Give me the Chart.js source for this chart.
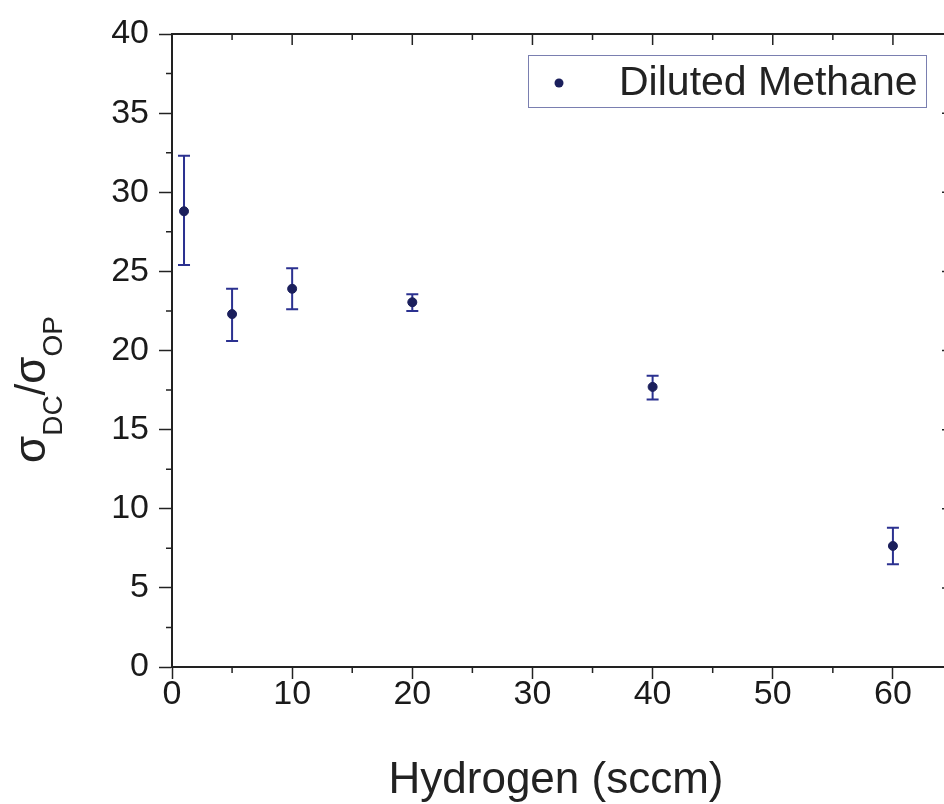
<!DOCTYPE html>
<html>
<head>
<meta charset="utf-8">
<script src="https://cdn.jsdelivr.net/npm/chart.js@4.4.1/dist/chart.umd.min.js"></script>
<style>
  html, body { margin: 0; padding: 0; background: #fff; overflow: hidden; }
  #wrap { width: 970px; height: 804px; }
</style>
</head>
<body>
<div id="wrap"><canvas id="chart" width="970" height="804"></canvas></div>
<script>
// data
const hydrogenFlow = [1, 5, 10, 20, 40, 60];
const sigmaRatio = [28.8, 22.3, 23.9, 23.05, 17.7, 7.65];
const errLow = [25.4, 20.6, 22.6, 22.5, 16.9, 6.5];
const errHigh = [32.3, 23.9, 25.2, 23.55, 18.4, 8.8];
const xTickValues = [0, 10, 20, 30, 40, 50, 60];
const yTickValues = [0, 5, 10, 15, 20, 25, 30, 35, 40];
const seriesLabel = "Diluted Methane";

const FONT = "'Liberation Sans', Arial, sans-serif";
const AXIS = "#222";
const MARKER = "#1b1f5c";
const ERRBAR = "#2b3190";

const points = hydrogenFlow.map((x, i) => ({ x, y: sigmaRatio[i] }));

const zeroPadding = (scale) => {
  scale.paddingTop = 0;
  scale.paddingBottom = 0;
  scale.paddingLeft = 0;
  scale.paddingRight = 0;
};

const decorations = {
  id: "decorations",
  beforeDatasetsDraw(chart) {
    const { ctx, scales } = chart;
    const x = scales.x;
    const y = scales.y;
    ctx.save();
    ctx.strokeStyle = ERRBAR;
    ctx.lineWidth = 2;
    hydrogenFlow.forEach((v, i) => {
      const px = x.getPixelForValue(v);
      const top = y.getPixelForValue(errHigh[i]);
      const bot = y.getPixelForValue(errLow[i]);
      ctx.beginPath();
      ctx.moveTo(px, top);
      ctx.lineTo(px, bot);
      ctx.moveTo(px - 6, top);
      ctx.lineTo(px + 6, top);
      ctx.moveTo(px - 6, bot);
      ctx.lineTo(px + 6, bot);
      ctx.stroke();
    });
    ctx.restore();
  },
  afterDraw(chart) {
    const { ctx, chartArea: a, scales } = chart;
    const x = scales.x;
    const y = scales.y;
    ctx.save();
    ctx.strokeStyle = AXIS;

    // top and right frame lines
    ctx.lineWidth = 2;
    ctx.beginPath();
    ctx.moveTo(a.left, a.top);
    ctx.lineTo(a.right, a.top);
    ctx.lineTo(a.right, a.bottom);
    ctx.stroke();

    ctx.lineWidth = 1.5;
    ctx.beginPath();
    // x ticks: minor outward on bottom, all inward on top
    for (let v = 0; v <= x.max; v += 5) {
      const px = x.getPixelForValue(v);
      const major = v % 10 === 0;
      if (!major) {
        ctx.moveTo(px, a.bottom);
        ctx.lineTo(px, a.bottom + 6);
      }
      ctx.moveTo(px, a.top);
      ctx.lineTo(px, a.top + (major ? 11 : 6));
    }
    // y ticks: minor outward on left, all inward on right
    for (let v = 0; v <= y.max; v += 2.5) {
      const py = y.getPixelForValue(v);
      const major = v % 5 === 0;
      if (!major) {
        ctx.moveTo(a.left, py);
        ctx.lineTo(a.left - 6, py);
      }
      ctx.moveTo(a.right, py);
      ctx.lineTo(a.right - (major ? 11 : 6), py);
    }
    ctx.stroke();

    // x axis title
    ctx.fillStyle = "#222";
    ctx.font = `44px ${FONT}`;
    ctx.textAlign = "center";
    ctx.textBaseline = "alphabetic";
    ctx.fillText("Hydrogen (sccm)", 556, 793);

    // y axis title with subscripts
    ctx.translate(45, 463);
    ctx.rotate(-Math.PI / 2);
    ctx.textAlign = "left";
    const parts = [
      ["σ", 44, 0],
      ["DC", 28, 17],
      ["/", 42, 0],
      ["σ", 44, 0],
      ["OP", 28, 17]
    ];
    let cx = 0;
    parts.forEach(([t, size, dy]) => {
      ctx.font = `${size}px ${FONT}`;
      ctx.fillText(t, cx, dy);
      cx += ctx.measureText(t).width;
    });
    ctx.setTransform(1, 0, 0, 1, 0, 0);

    // legend
    ctx.strokeStyle = "#7a7fb0";
    ctx.lineWidth = 1;
    ctx.strokeRect(528.5, 55.5, 398, 52);
    ctx.fillStyle = MARKER;
    ctx.beginPath();
    ctx.arc(559, 83, 4.5, 0, Math.PI * 2);
    ctx.fill();
    ctx.fillStyle = "#222";
    ctx.font = `41px ${FONT}`;
    ctx.textAlign = "left";
    ctx.fillText(seriesLabel, 619, 95);
    ctx.restore();
  }
};

new Chart(document.getElementById("chart"), {
  type: "scatter",
  data: {
    datasets: [
      {
        label: seriesLabel,
        data: points,
        showLine: false,
        pointRadius: 4.5,
        pointHoverRadius: 4.5,
        pointBackgroundColor: MARKER,
        pointBorderColor: MARKER
      }
    ]
  },
  options: {
    responsive: false,
    animation: false,
    devicePixelRatio: 1,
    layout: { padding: { top: 34, right: 17, left: 0, bottom: 0 } },
    plugins: {
      legend: { display: false },
      tooltip: { enabled: false }
    },
    scales: {
      x: {
        type: "linear",
        min: 0,
        max: 65,
        afterBuildTicks: (scale) => {
          scale.ticks = xTickValues.map((value) => ({ value }));
        },
        afterFit: (scale) => {
          scale.height = 137;
          zeroPadding(scale);
        },
        border: { display: true, color: AXIS, width: 2 },
        grid: {
          display: true,
          drawOnChartArea: false,
          drawTicks: true,
          tickLength: 12,
          tickWidth: 1.5,
          tickColor: AXIS
        },
        ticks: {
          padding: -5,
          maxRotation: 0,
          autoSkip: false,
          color: "#1a1a1a",
          font: { family: FONT, size: 34 }
        }
      },
      y: {
        type: "linear",
        min: 0,
        max: 40,
        afterBuildTicks: (scale) => {
          scale.ticks = yTickValues.map((value) => ({ value }));
        },
        afterFit: (scale) => {
          scale.width = 172;
          zeroPadding(scale);
        },
        border: { display: true, color: AXIS, width: 2 },
        grid: {
          display: true,
          drawOnChartArea: false,
          drawTicks: true,
          tickLength: 13,
          tickWidth: 1.5,
          tickColor: AXIS
        },
        ticks: {
          padding: 10,
          autoSkip: false,
          color: "#1a1a1a",
          font: { family: FONT, size: 34 }
        }
      }
    }
  },
  plugins: [decorations]
});
</script>
</body>
</html>
